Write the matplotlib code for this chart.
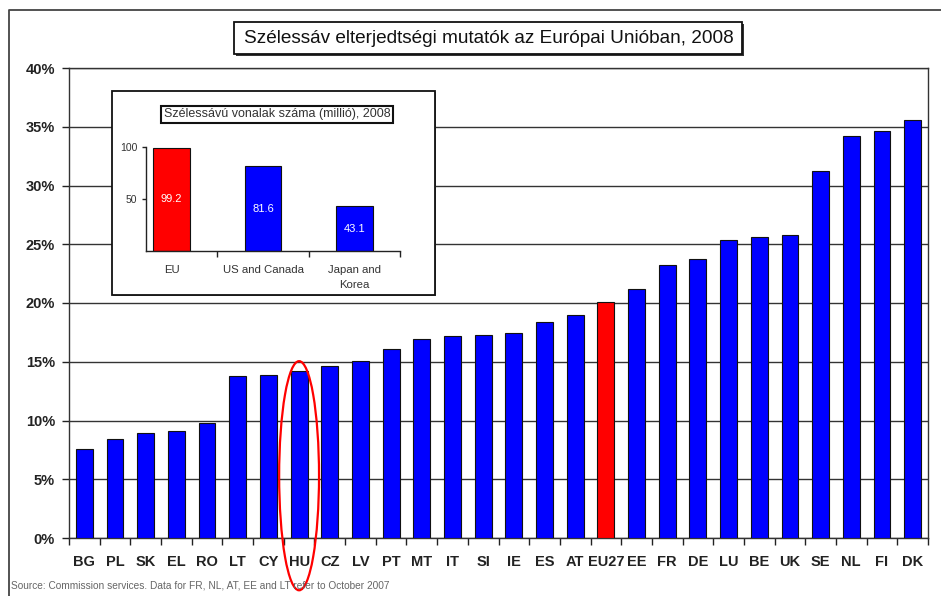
import matplotlib
matplotlib.use("Agg")
import matplotlib.pyplot as plt
from matplotlib.patches import Rectangle, Ellipse
from matplotlib.ticker import FixedLocator, PercentFormatter

plt.rcParams['font.family'] = ['Liberation Sans', 'DejaVu Sans']

countries = ["BG", "PL", "SK", "EL", "RO", "LT", "CY", "HU", "CZ", "LV", "PT", "MT",
             "IT", "SI", "IE", "ES", "AT", "EU27", "EE", "FR", "DE", "LU", "BE", "UK",
             "SE", "NL", "FI", "DK"]
penetration = [7.6, 8.4, 8.9, 9.1, 9.8, 13.8, 13.9, 14.25, 14.6, 15.1, 16.1, 16.95,
               17.15, 17.3, 17.45, 18.35, 19.0, 20.05, 21.15, 23.25, 23.75, 25.4, 25.65, 25.75,
               31.2, 34.2, 34.6, 35.6]
highlight = "EU27"
marked = "HU"

inset_regions = ["EU", "US and Canada", "Japan and\nKorea"]
inset_lines = [99.2, 81.6, 43.1]
inset_colors = ["#FF0000", "#0000FF", "#0000FF"]

title = "Szélessáv elterjedtségi mutatók az Európai Unióban, 2008"
inset_title = "Szélessávú vonalak száma (millió), 2008"
source = "Source: Commission services. Data for FR, NL, AT, EE and LT refer to October 2007"

W, H = 941, 596
fig = plt.figure(figsize=(W / 100, H / 100), dpi=100)

def fx(px):
    return px / W

def fy(py):
    return 1 - py / H

# outer frame (top-left part visible)
fig.add_artist(plt.Line2D([fx(9), fx(9), 1], [0, fy(10), fy(10)], color="#444444", lw=1.3))

# main axes
ax = fig.add_axes([fx(69), fy(538), fx(928) - fx(69), fy(68) - fy(538)])
x = list(range(len(countries)))
colors = ["#FF0000" if c == highlight else "#0000FF" for c in countries]
ax.bar(x, penetration, width=0.55, color=colors, edgecolor="#111111", linewidth=0.8, zorder=3)
ax.set_xlim(-0.5, len(countries) - 0.5)
ax.set_ylim(0, 40)
ax.yaxis.set_major_locator(FixedLocator([0, 5, 10, 15, 20, 25, 30, 35, 40]))
ax.yaxis.set_major_formatter(PercentFormatter(decimals=0))
ax.grid(axis="y", color="#333333", linewidth=1.0, zorder=0)
ax.set_xticks(x)
ax.set_xticklabels(countries)
ax.xaxis.set_minor_locator(FixedLocator([i + 0.5 for i in range(-1, len(countries))]))
ax.tick_params(axis="x", which="major", length=0, pad=12, labelsize=10.5, labelcolor="#222222")
ax.tick_params(axis="x", which="minor", length=5, width=1, color="#222222", direction="out")
ax.tick_params(axis="y", length=5, width=1, color="#222222", pad=5, labelsize=10.5, labelcolor="#222222")
for lab in ax.get_xticklabels() + ax.get_yticklabels():
    lab.set_fontweight("bold")
for s in ax.spines.values():
    s.set_color("#333333")
    s.set_linewidth(1.0)

# highlight ellipse around HU
hu = countries.index(marked)
ax.add_patch(Ellipse((hu, 5.3), 1.3, 19.5, fill=False, edgecolor="#FF0000", linewidth=1.6,
                     clip_on=False, zorder=5))

# title box
fig.add_artist(Rectangle((fx(236), fy(56)), fx(742) - fx(234), fy(22) - fy(54),
                         transform=fig.transFigure, facecolor="#333333", edgecolor="none", zorder=4))
fig.add_artist(Rectangle((fx(234), fy(54)), fx(742) - fx(234), fy(22) - fy(54),
                         transform=fig.transFigure, facecolor="white", edgecolor="#111111",
                         linewidth=1.3, zorder=5))
fig.text(fx(489), fy(38.5), title, ha="center", va="center", fontsize=13.7, color="#111111", zorder=6)

# inset frame with slight shadow
fig.add_artist(Rectangle((fx(113), fy(296)), fx(435) - fx(112), fy(91) - fy(295),
                         transform=fig.transFigure, facecolor="#777777", edgecolor="none", zorder=2))
fig.add_artist(Rectangle((fx(112), fy(295)), fx(435) - fx(112), fy(91) - fy(295),
                         transform=fig.transFigure, facecolor="white", edgecolor="#111111",
                         linewidth=1.3, zorder=2))

# inset axes
axi = fig.add_axes([fx(145.7), fy(251), fx(400) - fx(145.7), fy(147) - fy(251)], zorder=3)
axi.patch.set_alpha(0)
xi = list(range(len(inset_regions)))
axi.bar(xi, inset_lines, width=0.4, color=inset_colors, edgecolor="#111111", linewidth=0.8)
for xv, v in zip(xi, inset_lines):
    axi.text(xv, v / 2, f"{v:.1f}", ha="center", va="center", color="white", fontsize=8)
axi.set_xlim(-0.285, 2.5)
axi.set_ylim(0, 100)
axi.set_yticks([50, 100])
axi.set_xticks(xi)
axi.set_xticklabels(inset_regions, linespacing=1.7, va="top")
axi.xaxis.set_minor_locator(FixedLocator([0.5, 1.5, 2.5]))
axi.tick_params(axis="x", which="major", length=0, pad=10, labelsize=8.2, labelcolor="#333333")
axi.tick_params(axis="x", which="minor", length=4, width=1, color="#222222")
axi.tick_params(axis="y", length=3, width=1, color="#222222", labelsize=7.5, labelcolor="#333333", pad=3)
axi.spines["top"].set_visible(False)
axi.spines["right"].set_visible(False)
for s in ["left", "bottom"]:
    axi.spines[s].set_color("#222222")
    axi.spines[s].set_linewidth(1.0)

# inset title box
fig.text(fx(277), fy(114.5), inset_title, ha="center", va="center", fontsize=9, color="#333333",
         zorder=6,
         bbox=dict(boxstyle="square,pad=0.2", facecolor="white", edgecolor="#111111", linewidth=1.5))

# source
fig.text(fx(11), fy(585), source, ha="left", va="center", fontsize=7.3, color="#666666")

fig.savefig("out.png", dpi=100)
